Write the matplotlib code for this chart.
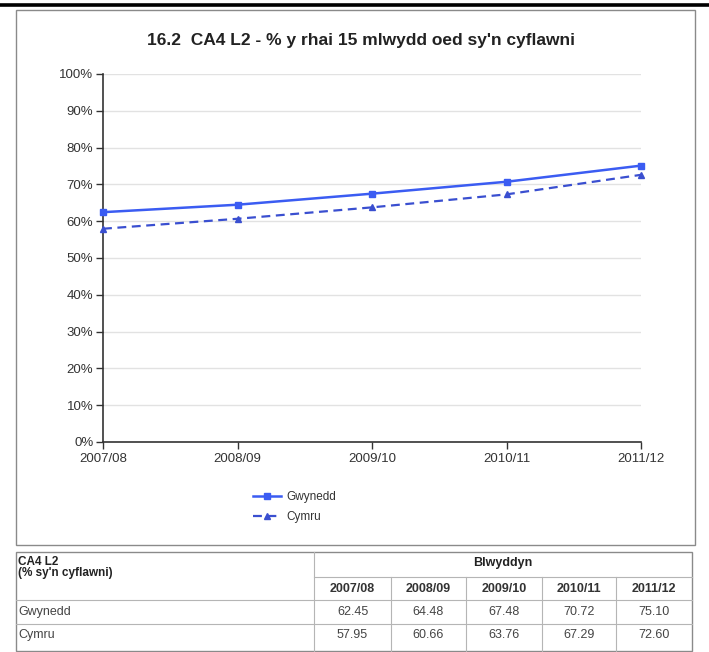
import matplotlib
matplotlib.use("Agg")
import matplotlib.pyplot as plt
from matplotlib.lines import Line2D
from matplotlib.patches import Rectangle

plt.rcParams['font.family'] = ['Liberation Sans', 'DejaVu Sans']

years = ["2007/08", "2008/09", "2009/10", "2010/11", "2011/12"]
gwynedd = [62.45, 64.48, 67.48, 70.72, 75.10]
cymru = [57.95, 60.66, 63.76, 67.29, 72.60]
series_names = ["Gwynedd", "Cymru"]
title = "16.2  CA4 L2 - % y rhai 15 mlwydd oed sy'n cyflawni"
table_head = ["CA4 L2", "(% sy'n cyflawni)"]
table_group = "Blwyddyn"

W, H = 709, 652
fig = plt.figure(figsize=(W / 100, H / 100), dpi=100)


def fx(px):
    return px / W


def fy(py):
    return 1 - py / H


# page rule above the chart
fig.add_artist(Line2D([fx(0), fx(709)], [fy(5), fy(5)], color="black", lw=2.6))

# chart frame
fig.add_artist(Rectangle((fx(16), fy(545)), fx(695) - fx(16), fy(10) - fy(545),
                         fill=False, edgecolor="#8a8a8a", lw=1.0))

fig.text(fx(361), fy(40), title, ha="center", va="center",
         fontsize=12.5, fontweight="bold", color="#222222")

# plot area
left, right, top, bottom = 103, 641, 74, 442
ax = fig.add_axes([fx(left), fy(bottom), fx(right) - fx(left), fy(top) - fy(bottom)])
x = list(range(len(years)))
ax.plot(x, gwynedd, color="#3b5cf2", lw=1.8, marker="s", markersize=5,
        label=series_names[0], clip_on=False, zorder=3)
ax.plot(x, cymru, color="#3a4fd0", lw=1.6, ls=(0, (4, 2.5)), marker="^", markersize=5,
        label=series_names[1], clip_on=False, zorder=3)
ax.set_xlim(0, len(years) - 1)
ax.set_ylim(0, 100)
ax.set_yticks(range(0, 101, 10))
ax.set_yticklabels([f"{v}%" for v in range(0, 101, 10)])
ax.set_xticks(x)
ax.set_xticklabels(years)
ax.grid(axis="y", color="#e2e2e2", lw=1.0)
ax.set_axisbelow(True)
for s in ("top", "right"):
    ax.spines[s].set_visible(False)
for s in ("left", "bottom"):
    ax.spines[s].set_color("#333333")
    ax.spines[s].set_linewidth(1.2)
ax.tick_params(axis="both", direction="out", length=5, width=1, color="#333333",
               labelsize=9.5, labelcolor="#333333", pad=2)
ax.tick_params(axis="x", pad=3)

leg = fig.legend(loc="upper left", bbox_to_anchor=(fx(253), fy(491)), frameon=False,
                 fontsize=8.5, handlelength=2.4, handletextpad=0.4, labelspacing=0.65,
                 borderaxespad=0, borderpad=0, markerscale=0.8)
for t in leg.get_texts():
    t.set_color("#333333")

# data table below the chart
grid_col = "#b5b5b5"
outer_col = "#8a8a8a"
col_edges = [16, 314, 391, 466, 542, 616, 692]
row_edges = [552, 577, 600, 624, 651]
tl, tr, tt, tb = col_edges[0], col_edges[-1], row_edges[0], row_edges[-1]


def hline(y, x0, x1, color=grid_col, lw=0.8):
    fig.add_artist(Line2D([fx(x0), fx(x1)], [fy(y), fy(y)], color=color, lw=lw))


def vline(xp, y0, y1, color=grid_col, lw=0.8):
    fig.add_artist(Line2D([fx(xp), fx(xp)], [fy(y0), fy(y1)], color=color, lw=lw))


hline(row_edges[1], col_edges[1], tr)
for y in row_edges[2:4]:
    hline(y, tl, tr)
vline(col_edges[1], tt, tb)
for xp in col_edges[2:-1]:
    vline(xp, row_edges[1], tb)
fig.add_artist(Rectangle((fx(tl), fy(tb)), fx(tr) - fx(tl), fy(tt) - fy(tb),
                         fill=False, edgecolor=outer_col, lw=1.0))

fig.text(fx(18), fy(562), table_head[0], ha="left", va="center", fontsize=8.5,
         fontweight="bold", color="#222222")
fig.text(fx(18), fy(573), table_head[1], ha="left", va="center", fontsize=8.5,
         fontweight="bold", color="#222222")
fig.text(fx((col_edges[1] + tr) / 2), fy(563), table_group, ha="center", va="center",
         fontsize=9, fontweight="bold", color="#222222")
for i, yr in enumerate(years):
    cx = (col_edges[i + 1] + col_edges[i + 2]) / 2
    fig.text(fx(cx), fy(589), yr, ha="center", va="center", fontsize=9,
             fontweight="bold", color="#333333")
row_text_y = [612, 635]
for r, (name, vals) in enumerate(zip(series_names, [gwynedd, cymru])):
    cy = row_text_y[r]
    fig.text(fx(18), fy(cy), name, ha="left", va="center", fontsize=9, color="#444444")
    for i, v in enumerate(vals):
        cx = (col_edges[i + 1] + col_edges[i + 2]) / 2
        fig.text(fx(cx), fy(cy), f"{v:.2f}", ha="center", va="center", fontsize=9,
                 color="#444444")

fig.savefig("out.png", dpi=100)
